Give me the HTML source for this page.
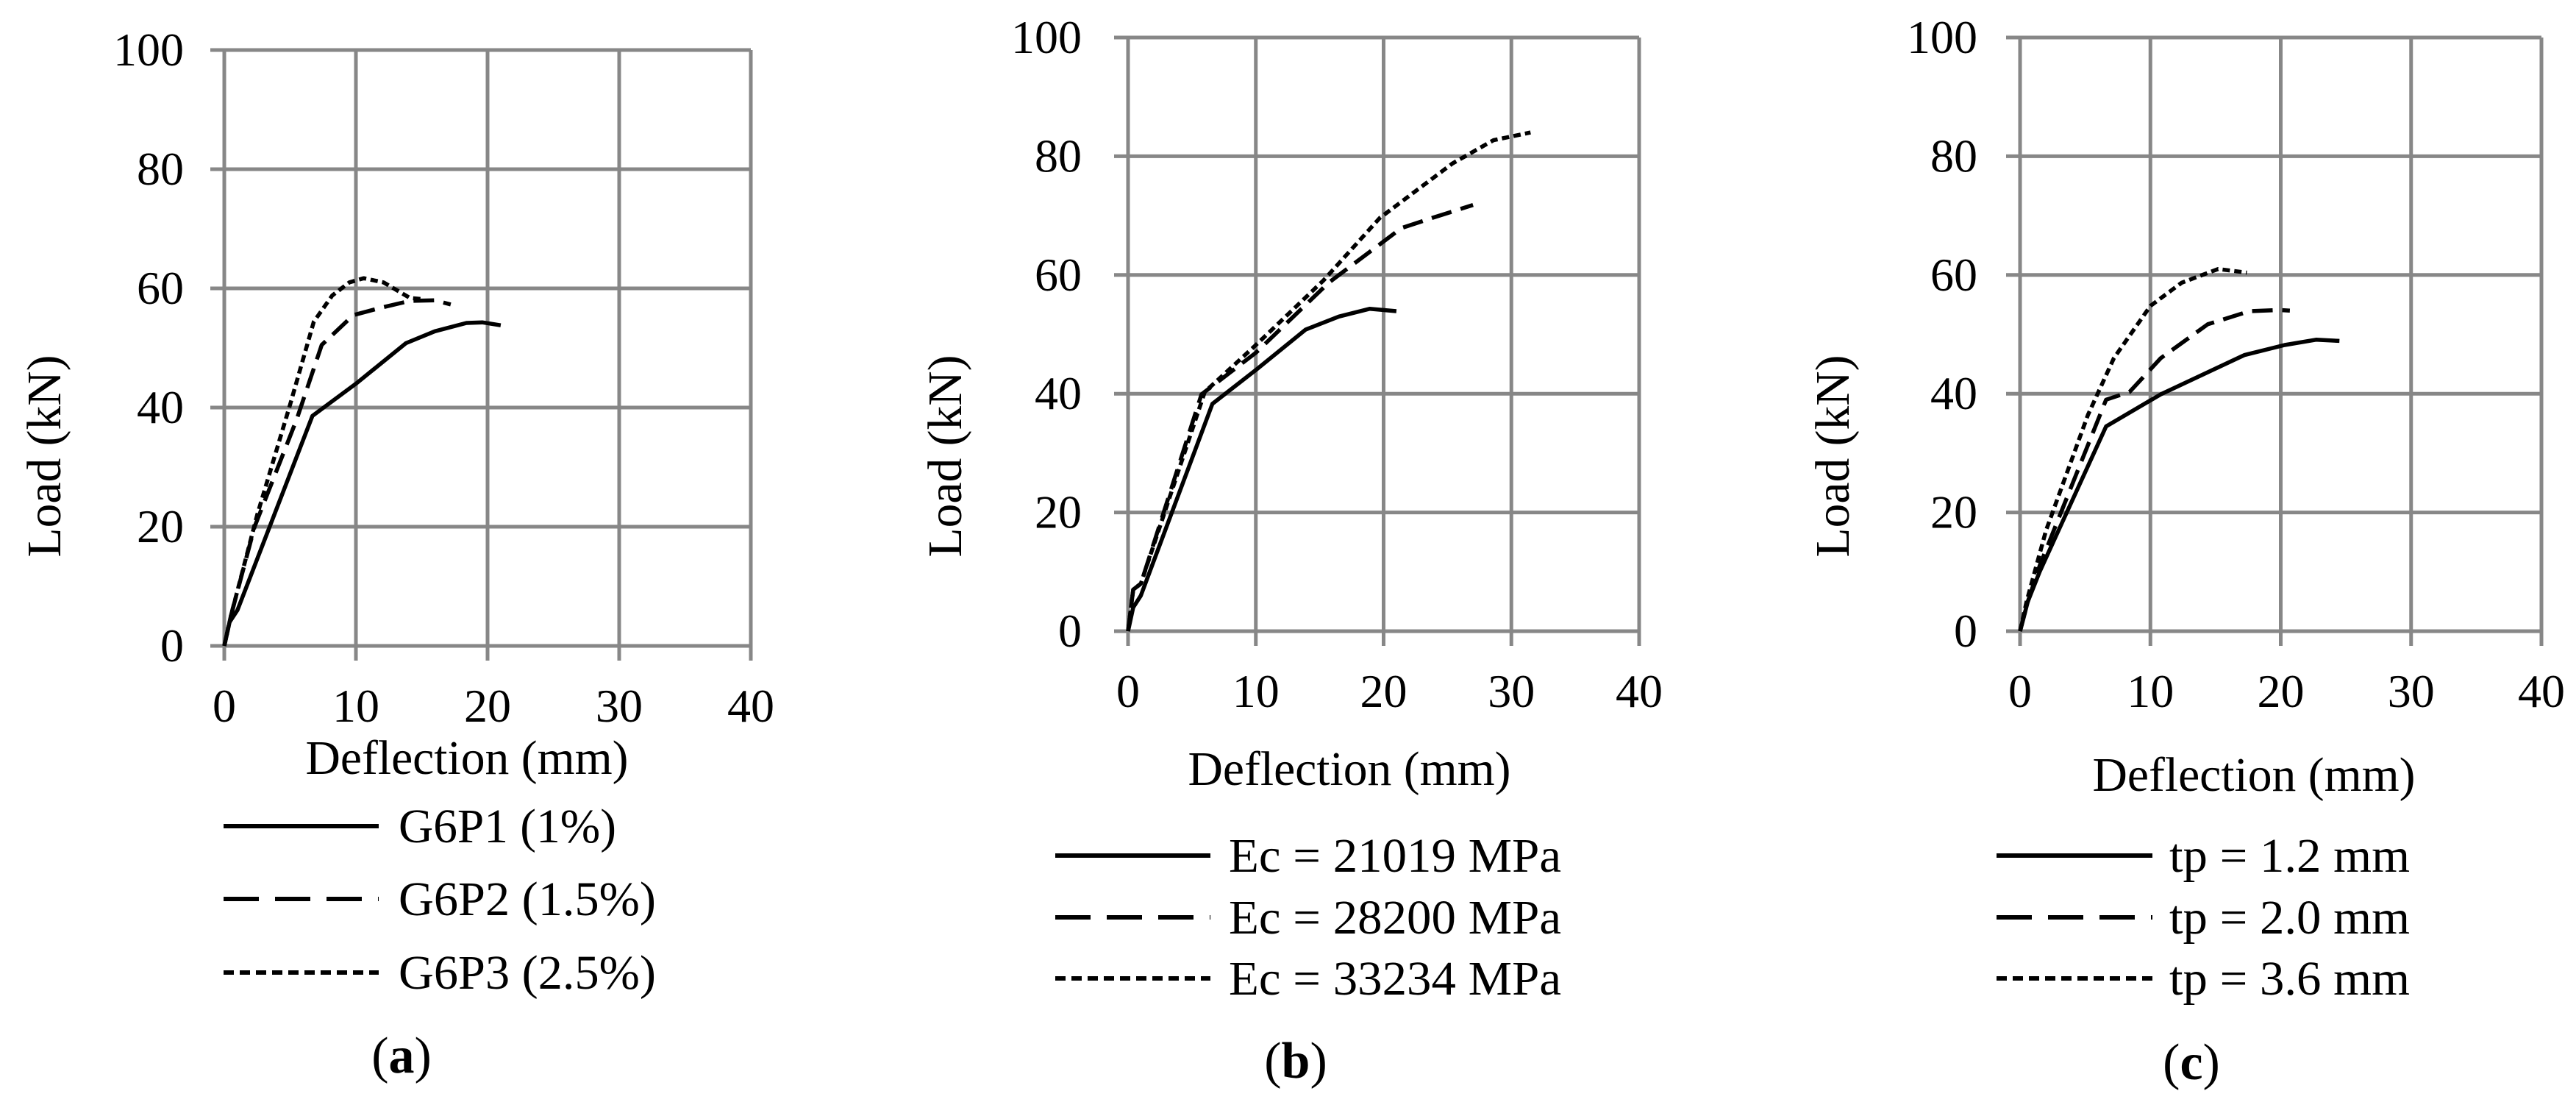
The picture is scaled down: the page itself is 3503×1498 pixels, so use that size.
<!DOCTYPE html>
<html><head><meta charset="utf-8">
<style>
html,body{margin:0;padding:0;background:#fff;}
svg{display:block;}
text{font-family:"Liberation Serif","Times New Roman",Times,serif;}
</style></head>
<body>
<svg id="fig" width="3503" height="1498" viewBox="0 0 3503 1498" xmlns="http://www.w3.org/2000/svg" font-family="Liberation Serif, Times New Roman, serif"></svg>
<script>
// Shared axis data
const xTicks = [0, 10, 20, 30, 40];
const yTicks = [0, 20, 40, 60, 80, 100];

// Panel (a)
const aSeriesNames = ["G6P1 (1%)", "G6P2 (1.5%)", "G6P3 (2.5%)"];
const aS1x = [0, 0.4, 1, 6.7, 10, 13.8, 16, 18.4, 19.6, 21];
const aS1y = [0, 4, 6, 38.6, 44, 50.8, 52.8, 54.2, 54.3, 53.8];
const aS2x = [0, 0.5, 2.3, 5.5, 7.4, 9.8, 12, 14.1, 16, 17.2];
const aS2y = [0, 5, 20, 38, 50.5, 55.5, 56.8, 57.9, 58, 57.3];
const aS3x = [0, 0.5, 2.5, 5, 6.8, 8.2, 9.5, 10.6, 12.1, 14.1, 15];
const aS3y = [0, 5, 22, 40.5, 54.4, 58.8, 61, 61.7, 61, 58.4, 58.2];

// Panel (b)
const bSeriesNames = ["Ec = 21019 MPa", "Ec = 28200 MPa", "Ec = 33234 MPa"];
const bS1x = [0, 0.4, 1, 6.6, 10, 13.9, 16.5, 18.9, 21];
const bS1y = [0, 4, 6, 38.3, 44, 50.8, 53, 54.3, 53.9];
const bS2x = [0, 0.4, 1, 5.75, 10, 15.7, 21.4, 23.8, 27];
const bS2y = [0, 7, 8, 39.9, 46.9, 58.7, 67.9, 69.6, 71.8];
const bS3x = [0, 0.4, 1, 6, 10, 15.3, 19.7, 25.4, 28.6, 31.5];
const bS3y = [0, 7, 8, 40.3, 48.2, 59.1, 69.6, 78.8, 82.7, 84];

// Panel (c)
const cSeriesNames = ["tp = 1.2 mm", "tp = 2.0 mm", "tp = 3.6 mm"];
const cS1x = [0, 0.6, 1.5, 6.6, 10.8, 17.2, 20.3, 22.7, 24.5];
const cS1y = [0, 5, 10, 34.5, 39.9, 46.5, 48.2, 49.1, 48.9];
const cS2x = [0, 0.6, 1.5, 6.6, 8.4, 10.8, 14.4, 17.6, 19.9, 20.7];
const cS2y = [0, 5, 11, 39, 40.3, 46, 51.7, 53.9, 54.1, 54];
const cS3x = [0, 0.5, 2, 5.2, 7.2, 10, 12.4, 15.2, 17.4];
const cS3y = [0, 5, 17, 36.4, 46, 54.8, 58.7, 61, 60.4];

const NS = "http://www.w3.org/2000/svg";
const svg = document.getElementById("fig");
function mk(tag, attrs, parent) {
  const e = document.createElementNS(NS, tag);
  for (const k in attrs) e.setAttribute(k, attrs[k]);
  (parent || svg).appendChild(e);
  return e;
}
const styles = [
  {dash: "", ldash: ""},
  {dash: "28 13", ldash: "48 22"},
  {dash: "10 6", ldash: "14 8"}
];

const panels = [
  {id: "a", L: 305, R: 1021, T: 68, B: 878, ylabR: 250, xlabY: 981, xtX: 635, xtY: 1052, ytX: 60,
   legLine: [304, 515], legText: 542, legY: [1123, 1222, 1322], legW: [296, 350, 350], lab: "a", labX: 546, labY: 1458,
   names: aSeriesNames, xs: [aS1x, aS2x, aS3x], ys: [aS1y, aS2y, aS3y]},
  {id: "b", L: 1534, R: 2229, T: 51, B: 858, ylabR: 1471, xlabY: 961, xtX: 1835, xtY: 1067, ytX: 1285,
   legLine: [1435, 1646], legText: 1671, legY: [1163, 1247, 1330], legW: [452, 452, 452], lab: "b", labX: 1762, labY: 1465,
   names: bSeriesNames, xs: [bS1x, bS2x, bS3x], ys: [bS1y, bS2y, bS3y]},
  {id: "c", L: 2747, R: 3456, T: 51, B: 858, ylabR: 2689, xlabY: 961, xtX: 3065, xtY: 1075, ytX: 2492,
   legLine: [2715, 2927], legText: 2950, legY: [1163, 1247, 1330], legW: [327, 327, 327], lab: "c", labX: 2980, labY: 1467,
   names: cSeriesNames, xs: [cS1x, cS2x, cS3x], ys: [cS1y, cS2y, cS3y]}
];

panels.forEach(p => {
  const g = mk("g", {});
  
  
  const sx = v => p.L + (v - 0) / 40 * (p.R - p.L);
  const sy = v => p.B - (v - 0) / 100 * (p.B - p.T);

  yTicks.forEach(t => {
    const l = mk("line", {x1: p.L - 19, x2: p.R, y1: sy(t), y2: sy(t), stroke: "#878787", "stroke-width": 5}, g);
    
    
    const s = String(t);
    const tx = mk("text", {x: p.ylabR, y: sy(t) + 21, "text-anchor": "end", "font-size": 64, fill: "#000",
      textLength: 32 * s.length, lengthAdjust: "spacingAndGlyphs"}, g);
    tx.textContent = s;
    
    
  });
  xTicks.forEach(t => {
    const l = mk("line", {x1: sx(t), x2: sx(t), y1: p.T, y2: p.B + 20, stroke: "#878787", "stroke-width": 5}, g);
    
    
    const s = String(t);
    const tx = mk("text", {x: sx(t), y: p.xlabY, "text-anchor": "middle", "font-size": 64, fill: "#000",
      textLength: 32 * s.length, lengthAdjust: "spacingAndGlyphs"}, g);
    tx.textContent = s;
    
    
  });

  const xt = mk("text", {x: p.xtX, y: p.xtY, "text-anchor": "middle", "font-size": 66, textLength: 439, lengthAdjust: "spacingAndGlyphs"}, g);
  xt.textContent = "Deflection (mm)";
  
  
  const yt = mk("text", {x: 0, y: 0, "text-anchor": "middle", "font-size": 66, textLength: 275, lengthAdjust: "spacingAndGlyphs",
    transform: "translate(" + (p.ytX + 22) + ",620) rotate(-90)"}, g);
  yt.textContent = "Load (kN)";
  
  

  for (let s = 0; s < 3; s++) {
    const xs = p.xs[s], ys = p.ys[s];
    let d = "";
    for (let i = 0; i < xs.length; i++) d += (i ? "L" : "M") + sx(xs[i]).toFixed(1) + " " + sy(ys[i]).toFixed(1);
    const path = mk("path", {d: d, fill: "none", stroke: "#000", "stroke-width": 5.5, "stroke-linejoin": "round"}, g);
    if (styles[s].dash) path.setAttribute("stroke-dasharray", styles[s].dash);
    
    

    const lg = mk("g", {}, g);
    
    
    const ll = mk("line", {x1: p.legLine[0], x2: p.legLine[1], y1: p.legY[s], y2: p.legY[s], stroke: "#000", "stroke-width": 6}, lg);
    if (styles[s].ldash) ll.setAttribute("stroke-dasharray", styles[s].ldash);
    
    
    const lt = mk("text", {x: p.legText, y: p.legY[s] + 22, "font-size": 66, textLength: p.legW[s], lengthAdjust: "spacingAndGlyphs"}, lg);
    lt.textContent = p.names[s];
    
    
  }

  const pl = mk("text", {x: p.labX, y: p.labY, "text-anchor": "middle", "font-size": 70}, g);
  pl.appendChild(document.createTextNode("("));
  const b = mk("tspan", {"font-weight": "bold"}, pl);
  b.textContent = p.lab;
  pl.appendChild(document.createTextNode(")"));
  
  
});
</script>
</body></html>
